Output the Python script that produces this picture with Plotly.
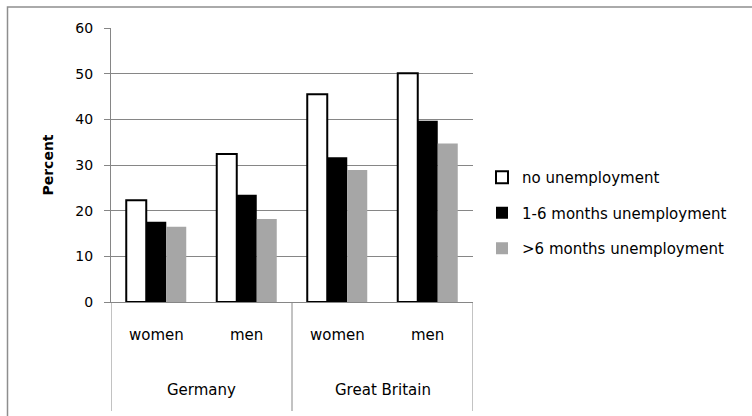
import plotly.graph_objects as go

# Data: percent by country, gender and unemployment experience
countries = ["Germany", "Germany", "Great Britain", "Great Britain"]
genders = ["women", "men", "women", "men"]
no_unemp = [22.3, 32.4, 45.5, 50.1]
unemp_1_6 = [17.6, 23.5, 31.7, 39.7]
unemp_gt6 = [16.5, 18.2, 28.9, 34.7]
series_names = ["no unemployment", "1-6 months unemployment", ">6 months unemployment"]
y_ticks = [0, 10, 20, 30, 40, 50, 60]

cats = [f"{c} {g}" for c, g in zip(countries, genders)]

W, H = 752, 416
L, R, T, B = 111, 279, 28, 114
pw, ph = W - L - R, H - T - B

def px_x(p):
    return (p - L) / pw

def px_y(p):
    return (H - B - p) / ph

FONT = "DejaVu Sans, sans-serif"
GRID = "#868686"

fig = go.Figure()
fig.add_bar(x=cats, y=no_unemp, name=series_names[0], legendgroup="a",
            marker=dict(color="white", line=dict(color="black", width=2)))
fig.add_bar(x=cats, y=unemp_1_6, name=series_names[1], legendgroup="b",
            marker=dict(color="black", line=dict(width=0)))
fig.add_bar(x=cats, y=unemp_gt6, name=series_names[2], legendgroup="c",
            marker=dict(color="#a6a6a6", line=dict(width=0)))

# Category labels under the axis (gender row, then country row)
annotations = []
for i, g in enumerate(genders):
    annotations.append(dict(x=i, y=px_y(335), xref="x", yref="paper", text=g,
                            yanchor="middle", xanchor="center", showarrow=False,
                            font=dict(size=15, color="black", family=FONT)))
for i, c in enumerate(["Germany", "Great Britain"]):
    annotations.append(dict(x=2 * i + 0.5, y=px_y(390), xref="x", yref="paper", text=c,
                            yanchor="middle", xanchor="center", showarrow=False,
                            font=dict(size=15, color="black", family=FONT)))

shapes = []
# Group dividers running down through the label rows
for xv in [-0.5, 1.5, 3.5]:
    shapes.append(dict(type="line", xref="x", yref="paper", x0=xv, x1=xv,
                       y0=0, y1=px_y(411), line=dict(color=GRID, width=1)))
# Chart frame
shapes.append(dict(type="rect", xref="paper", yref="paper",
                   x0=px_x(7.5), x1=px_x(780), y0=px_y(440), y1=px_y(7),
                   line=dict(color="#8e8e8e", width=1.5), layer="below"))

fig.update_layout(
    width=W, height=H,
    margin=dict(l=L, r=R, t=T, b=B, pad=0),
    paper_bgcolor="white", plot_bgcolor="white",
    barmode="group", bargap=0.337, bargroupgap=0,
    font=dict(family=FONT, size=15, color="black"),
    showlegend=True,
    legend=dict(x=px_x(482), y=px_y(161), xanchor="left", yanchor="top",
                tracegroupgap=13, font=dict(size=15, family=FONT, color="black"),
                bgcolor="rgba(0,0,0,0)", itemclick=False),
    annotations=annotations,
    shapes=shapes,
)
fig.update_xaxes(type="category", showticklabels=False, ticks="",
                 showline=True, linecolor=GRID, linewidth=1,
                 showgrid=False, zeroline=False, range=[-0.5, 3.5], fixedrange=True)
fig.update_yaxes(range=[0, 60], tickvals=y_ticks, ticks="outside", ticklen=6,
                 tickcolor=GRID, showline=True, linecolor=GRID, linewidth=1,
                 showgrid=True, gridcolor=GRID, gridwidth=1, zeroline=False,
                 tickfont=dict(size=14, family=FONT, color="black"),
                 ticklabelstandoff=8,
                 title=dict(text="<b>Percent</b>", standoff=18,
                            font=dict(size=14, family=FONT, color="black")),
                 fixedrange=True)

fig.write_html("out.html", config={"displayModeBar": False})
